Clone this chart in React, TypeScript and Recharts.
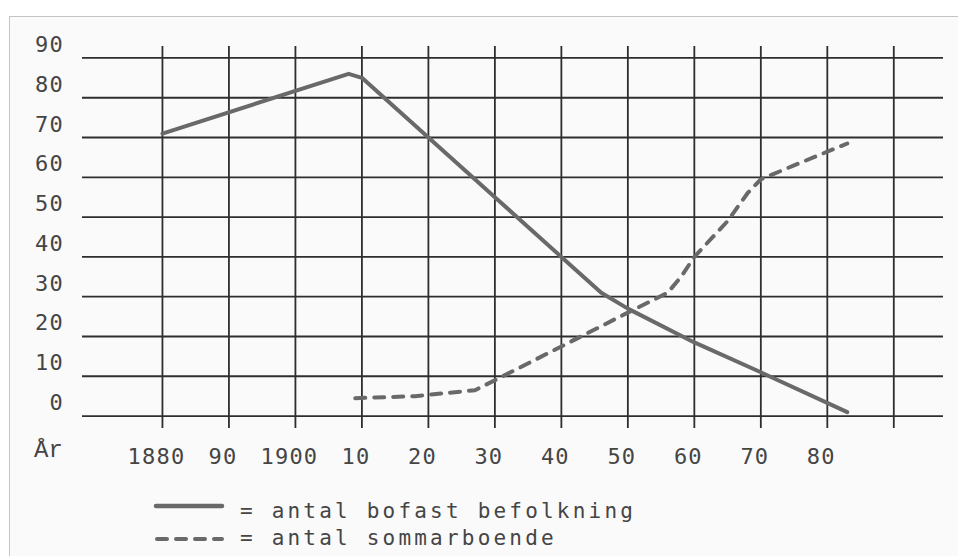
import React from "react";
import { LineChart, Line, XAxis, YAxis, ReferenceLine, Legend } from "recharts";

// Tick values and labels
const xTicks = [1880, 1890, 1900, 1910, 1920, 1930, 1940, 1950, 1960, 1970, 1980, 1990];
const xTickLabels = ["1880", "90", "1900", "10", "20", "30", "40", "50", "60", "70", "80", ""];
const yTicks = [0, 10, 20, 30, 40, 50, 60, 70, 80, 90];

// Series: antal bofast befolkning (solid)
const bofastYears = [1880, 1908, 1910, 1920, 1930, 1940, 1946, 1950, 1960, 1970, 1983];
const bofastValues = [71, 86, 85, 70, 55, 40, 31, 27, 18.5, 11, 1];

// Series: antal sommarboende (dashed)
const sommarYears = [1909, 1918, 1927, 1930, 1940, 1950, 1956, 1958, 1960, 1965, 1968, 1970, 1975, 1983];
const sommarValues = [4.5, 5, 6.5, 9, 17.5, 26, 31, 35, 40, 49, 56, 59.5, 63, 68.5];

const seriesNames = ["antal bofast befolkning", "antal sommarboende"];

const bofastData = bofastYears.map((year, i) => ({ year, value: bofastValues[i] }));
const sommarData = sommarYears.map((year, i) => ({ year, value: sommarValues[i] }));

const TEXT = "#454545";
const LINE = "#696969";
const GRID = "#2e2e2e";
const MONO = "'DejaVu Sans Mono', monospace";

const XTick = (props: any) => {
  const { x, payload } = props;
  const idx = xTicks.indexOf(payload.value);
  const label = idx >= 0 ? xTickLabels[idx] : "";
  return (
    <text x={x - 6} y={464} textAnchor="middle" fontFamily={MONO} fontSize={22} letterSpacing={1.2} fill={TEXT}>
      {label}
    </text>
  );
};

const YTick = (props: any) => {
  const { y, payload } = props;
  return (
    <text x={64} y={y - 6} textAnchor="end" fontFamily={MONO} fontSize={22} letterSpacing={1.2} fill={TEXT}>
      {String(payload.value)}
    </text>
  );
};

const LegendContent = () => (
  <svg width={520} height={64} style={{ display: "block" }}>
    <line x1={6} y1={16} x2={72} y2={16} stroke={LINE} strokeWidth={4.5} strokeLinecap="round" />
    <text x={90} y={28} fontFamily={MONO} fontSize={21} letterSpacing={3.2} fill={TEXT}>
      {"= " + seriesNames[0]}
    </text>
    <line x1={7} y1={49} x2={72} y2={49} stroke={LINE} strokeWidth={4} strokeLinecap="round" strokeDasharray="10 9" />
    <text x={90} y={55} fontFamily={MONO} fontSize={21} letterSpacing={3.2} fill={TEXT}>
      {"= " + seriesNames[1]}
    </text>
  </svg>
);

export default function App() {
  return (
    <div style={{ position: "absolute", left: 0, top: 0, width: 958, height: 556, background: "#ffffff", overflow: "hidden" }}>
      <div
        style={{
          position: "absolute",
          left: 9,
          top: 16,
          width: 980,
          height: 600,
          borderLeft: "1px solid #c4c4c4",
          borderTop: "1px solid #c4c4c4",
          background: "#fafafa",
        }}
      />
      <div style={{ position: "absolute", left: 0, top: 0 }}>
        <LineChart width={958} height={556} margin={{ top: 46, right: 15, left: 22, bottom: 98 }}>
          <XAxis
            dataKey="year"
            type="number"
            domain={[1867.9, 1997.4]}
            ticks={xTicks}
            interval={0}
            allowDataOverflow
            axisLine={false}
            tickLine={false}
            height={30}
            tick={<XTick />}
          />
          <YAxis
            type="number"
            domain={[-3, 93]}
            ticks={yTicks}
            interval={0}
            allowDataOverflow
            axisLine={false}
            tickLine={false}
            width={60}
            tick={<YTick />}
          />
          {yTicks.map((v) => (
            <ReferenceLine key={"h" + v} y={v} stroke={GRID} strokeWidth={1.8} />
          ))}
          {xTicks.map((v) => (
            <ReferenceLine key={"v" + v} x={v} stroke={GRID} strokeWidth={1.8} />
          ))}
          <Line
            data={bofastData}
            dataKey="value"
            name={seriesNames[0]}
            type="linear"
            stroke={LINE}
            strokeWidth={4}
            strokeLinejoin="round"
            strokeLinecap="round"
            dot={false}
            activeDot={false}
            isAnimationActive={false}
          />
          <Line
            data={sommarData}
            dataKey="value"
            name={seriesNames[1]}
            type="linear"
            stroke={LINE}
            strokeWidth={4}
            strokeDasharray="10 9"
            strokeLinecap="round"
            strokeLinejoin="round"
            dot={false}
            activeDot={false}
            isAnimationActive={false}
          />
          <Legend
            layout="vertical"
            align="center"
            verticalAlign="middle"
            wrapperStyle={{ left: 150, top: 490, width: 520, height: 64 }}
            content={<LegendContent />}
          />
        </LineChart>
      </div>
      <div
        style={{
          position: "absolute",
          left: 34,
          top: 436,
          fontFamily: "'Liberation Mono', monospace",
          fontSize: 24,
          color: TEXT,
          lineHeight: "30px",
        }}
      >
        År
      </div>
    </div>
  );
}
